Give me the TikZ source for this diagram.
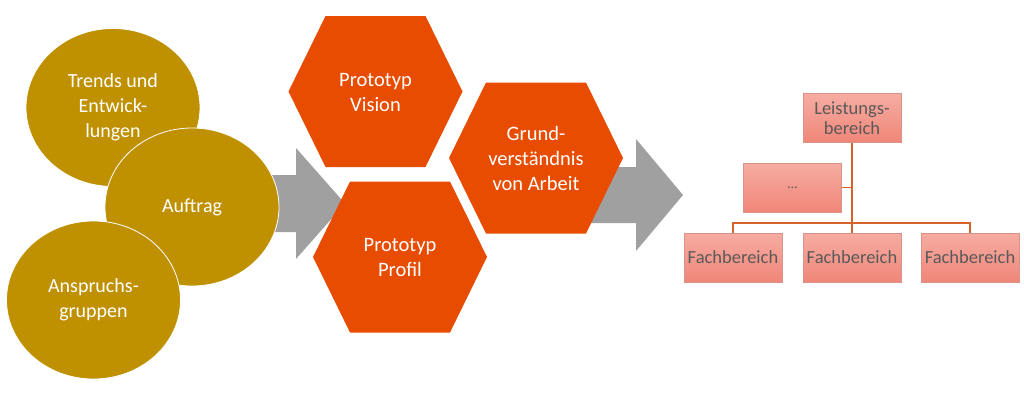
\documentclass[tikz,border=0pt]{standalone}
\usepackage{fontspec}
\setmainfont{Carlito}
\usetikzlibrary{shapes.geometric}
\definecolor{gold}{HTML}{BF9000}
\definecolor{hexor}{HTML}{E84C00}
\definecolor{arrowgray}{HTML}{A0A0A0}
\definecolor{boxtxt}{HTML}{595959}
\definecolor{linec}{HTML}{D9622B}
\definecolor{boxtop}{HTML}{F6ACA2}
\definecolor{boxbot}{HTML}{F08678}
\definecolor{boxline}{HTML}{D8948A}
\begin{document}
\begin{tikzpicture}[x=1pt,y=-1pt,
  circ/.style={ellipse, fill=gold, draw=white, line width=0.8pt, minimum width=174pt, minimum height=158pt, inner sep=0pt, text=white, align=center, font=\fontsize{20}{25}\selectfont},
  hextext/.style={text=white, align=center, font=\fontsize{20.5}{25}\selectfont, inner sep=0pt},
  orgbox/.style={draw=boxline, line width=0.6pt, top color=boxtop, bottom color=boxbot, minimum width=98pt, minimum height=49pt, inner sep=0pt, text=boxtxt, align=center, font=\fontsize{18.5}{20.5}\selectfont},
  orgline/.style={draw=linec, line width=1.3pt}
]
\useasboundingbox (0,0) rectangle (1024,402);
% gray block arrows
\fill[arrowgray] (250,175) -- (296,175) -- (296,148) -- (345,203.5) -- (296,259) -- (296,232) -- (250,232) -- cycle;
\fill[arrowgray] (590,167) -- (636,167) -- (636,139) -- (683,195) -- (636,251) -- (636,223) -- (590,223) -- cycle;
% circles
\node[circ] (trends) at (113,107.5) {Trends und\\Entwick-\\lungen};
\node[circ] (auftrag) at (192,207) {Auftrag};
\node[circ] (anspruch) at (93.5,300) {Anspruchs-\\gruppen};
% hexagons
\newcommand{\myhexagon}[2]{\fill[hexor, shift={(#1,#2)}] (-87,0) -- (-50,-75.5) -- (50,-75.5) -- (87,0) -- (50,75.5) -- (-50,75.5) -- cycle;}
\myhexagon{375.5}{91.5}
\myhexagon{400}{257}
\myhexagon{536}{158}
\node[hextext] (vision) at (375.5,92) {Prototyp\\Vision};
\node[hextext] (profil) at (400,257) {Prototyp\\Profil};
\node[hextext] (grund) at (536,158) {Grund-\\verständnis\\von Arbeit};
% org chart
\node[orgbox] (leist) at (852,118) {Leistungs-\\bereich};
\node[orgbox] (dots) at (792.5,187.5) {\fontsize{14}{16}\selectfont …};
\node[orgbox] (fb1) at (733,257.5) {Fachbereich};
\node[orgbox] (fb2) at (852,257.5) {Fachbereich};
\node[orgbox] (fb3) at (970,257.5) {Fachbereich};
\coordinate (bus) at (852,223);
\draw[orgline] (leist.south) -- (bus);
\draw[orgline] (fb1.north) |- (bus) -| (fb3.north);
\draw[orgline] (bus) -- (fb2.north);
\draw[orgline] (dots.east) -- (dots.east -| leist.south);
\end{tikzpicture}
\end{document}
